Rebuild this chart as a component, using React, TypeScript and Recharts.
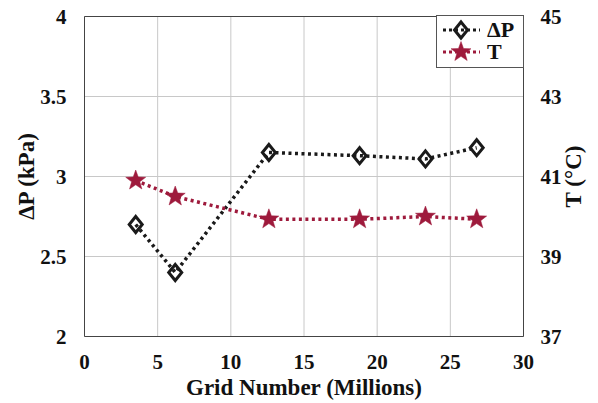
import React from "react";
import {
  ComposedChart, Line, XAxis, YAxis, CartesianGrid, ReferenceLine,
} from "recharts";

const gridMillions = [3.5, 6.2, 12.6, 18.8, 23.3, 26.8];
const pressureKPa = [2.7, 2.4, 3.15, 3.13, 3.11, 3.18];
const temperatureC = [40.9, 40.5, 39.93, 39.93, 40.0, 39.93];

const xTicks = [0, 5, 10, 15, 20, 25, 30];
const leftTicks = [2, 2.5, 3, 3.5, 4];
const rightTicks = [37, 39, 41, 43, 45];

const BLACK = "#1a1a1a";
const RED = "#9e1a3c";
const GRID = "#c8c8c8";
const FONT = "\"Times New Roman\", \"Liberation Serif\", \"DejaVu Serif\", serif";

const data = gridMillions.map((x, i) => ({ x, dp: pressureKPa[i], t: temperatureC[i] }));

function starPath(cx: number, cy: number, ro: number, ri: number) {
  let d = "";
  for (let i = 0; i < 10; i++) {
    const r = i % 2 === 0 ? ro : ri;
    const a = -Math.PI / 2 + (i * Math.PI) / 5;
    d += `${i === 0 ? "M" : "L"}${cx + r * Math.cos(a)},${cy + r * Math.sin(a)}`;
  }
  return d + "Z";
}

// eslint-disable-next-line @typescript-eslint/no-explicit-any
function DiamondDot(props: any) {
  const { cx, cy } = props;
  if (cx == null || cy == null) return null;
  return (
    <path
      d={`M${cx},${cy - 8} L${cx + 6.5},${cy} L${cx},${cy + 8} L${cx - 6.5},${cy} Z`}
      fill="none" stroke={BLACK} strokeWidth={3} strokeLinejoin="miter"
    />
  );
}

// eslint-disable-next-line @typescript-eslint/no-explicit-any
function StarDot(props: any) {
  const { cx, cy } = props;
  if (cx == null || cy == null) return null;
  return <path d={starPath(cx, cy, 10.5, 4.3)} fill={RED} stroke={RED} strokeWidth={0.5} />;
}

const textStyle: React.CSSProperties = { fontFamily: FONT, fontWeight: 700, fontSize: 21, fill: "#111" };

function makeTick(anchor: "start" | "middle" | "end", dx: number, dy: number) {
  // eslint-disable-next-line @typescript-eslint/no-explicit-any
  return function Tick(props: any) {
    const { x, y, payload } = props;
    return (
      <text x={x + dx} y={y + dy} textAnchor={anchor} dominantBaseline="central" fontFamily={FONT} style={textStyle}>
        {payload.value}
      </text>
    );
  };
}

const XTick = makeTick("middle", 0, 17);
const LeftTick = makeTick("end", -10, 0);
const RightTick = makeTick("start", 9, 0);

function LegendBox() {
  const row = (label: string, color: string, marker: React.ReactNode) => (
    <div style={{ display: "flex", alignItems: "center", height: 22 }}>
      <svg width={42} height={22}>
        <line x1={3} y1={11} x2={40} y2={11} stroke={color} strokeWidth={3} strokeDasharray="3 3" />
        {marker}
      </svg>
      <span style={{ fontFamily: FONT, fontWeight: 700, fontSize: 22, color: "#111", marginLeft: 5, lineHeight: "22px" }}>
        {label}
      </span>
    </div>
  );
  return (
    <div
      style={{
        position: "absolute", left: 436, top: 15, width: 88, height: 53,
        border: "1px solid #555", background: "#fff",
        padding: "3px 0 0 3px", boxSizing: "border-box",
      }}
    >
      {row("\u0394P", BLACK, <DiamondDot cx={21} cy={11} />)}
      {row("T", RED, <StarDot cx={21} cy={11} />)}
    </div>
  );
}

export default function App() {
  return (
    <div style={{ position: "absolute", left: 0, top: 0, width: 598, height: 403, background: "#fff", fontFamily: FONT }}>
      <ComposedChart width={598} height={403} data={data} margin={{ top: 16.5, right: 0, bottom: 0, left: 0 }}>
        <CartesianGrid
          yAxisId="left" horizontalValues={leftTicks} verticalValues={xTicks}
          stroke={GRID} strokeWidth={1}
        />
        <XAxis
          dataKey="x" type="number" domain={[0, 30]} ticks={xTicks} height={66.5}
          axisLine={{ stroke: "#444" }} tickLine={false} tick={<XTick />}
          label={{ value: "Grid Number (Millions)", position: "insideBottom", offset: 8, fontFamily: FONT, style: { ...textStyle, fontSize: 23 } }}
        />
        <YAxis
          yAxisId="left" domain={[2, 4]} ticks={leftTicks} width={84.5}
          axisLine={{ stroke: "#444" }} tickLine={false} tick={<LeftTick />}
          label={{ value: "\u0394P  (kPa)", angle: -90, position: "insideLeft", offset: 26, fontFamily: FONT, style: { ...textStyle, fontSize: 23, textAnchor: "middle" } }}
        />
        <YAxis
          yAxisId="right" orientation="right" domain={[37, 45]} ticks={rightTicks} width={74.5}
          axisLine={{ stroke: "#444" }} tickLine={false} tick={<RightTick />}
          label={{ value: "T (\u00b0C)", angle: -90, position: "insideRight", offset: 25, fontFamily: FONT, style: { ...textStyle, fontSize: 23, textAnchor: "middle" } }}
        />
        <ReferenceLine yAxisId="left" y={2.5} stroke={GRID} strokeWidth={1} />
        <ReferenceLine yAxisId="left" y={3} stroke={GRID} strokeWidth={1} />
        <ReferenceLine yAxisId="left" y={3.5} stroke={GRID} strokeWidth={1} />
        <ReferenceLine yAxisId="left" y={4} stroke="#444" strokeWidth={1} />
        <Line
          yAxisId="left" dataKey="dp" type="linear" stroke={BLACK} strokeWidth={3.5}
          strokeDasharray="3 3.5" dot={<DiamondDot />} activeDot={false} isAnimationActive={false}
        />
        <Line
          yAxisId="right" dataKey="t" type="linear" stroke={RED} strokeWidth={3.5}
          strokeDasharray="3 3.5" dot={<StarDot />} activeDot={false} isAnimationActive={false}
        />
      </ComposedChart>
      <LegendBox />
    </div>
  );
}
